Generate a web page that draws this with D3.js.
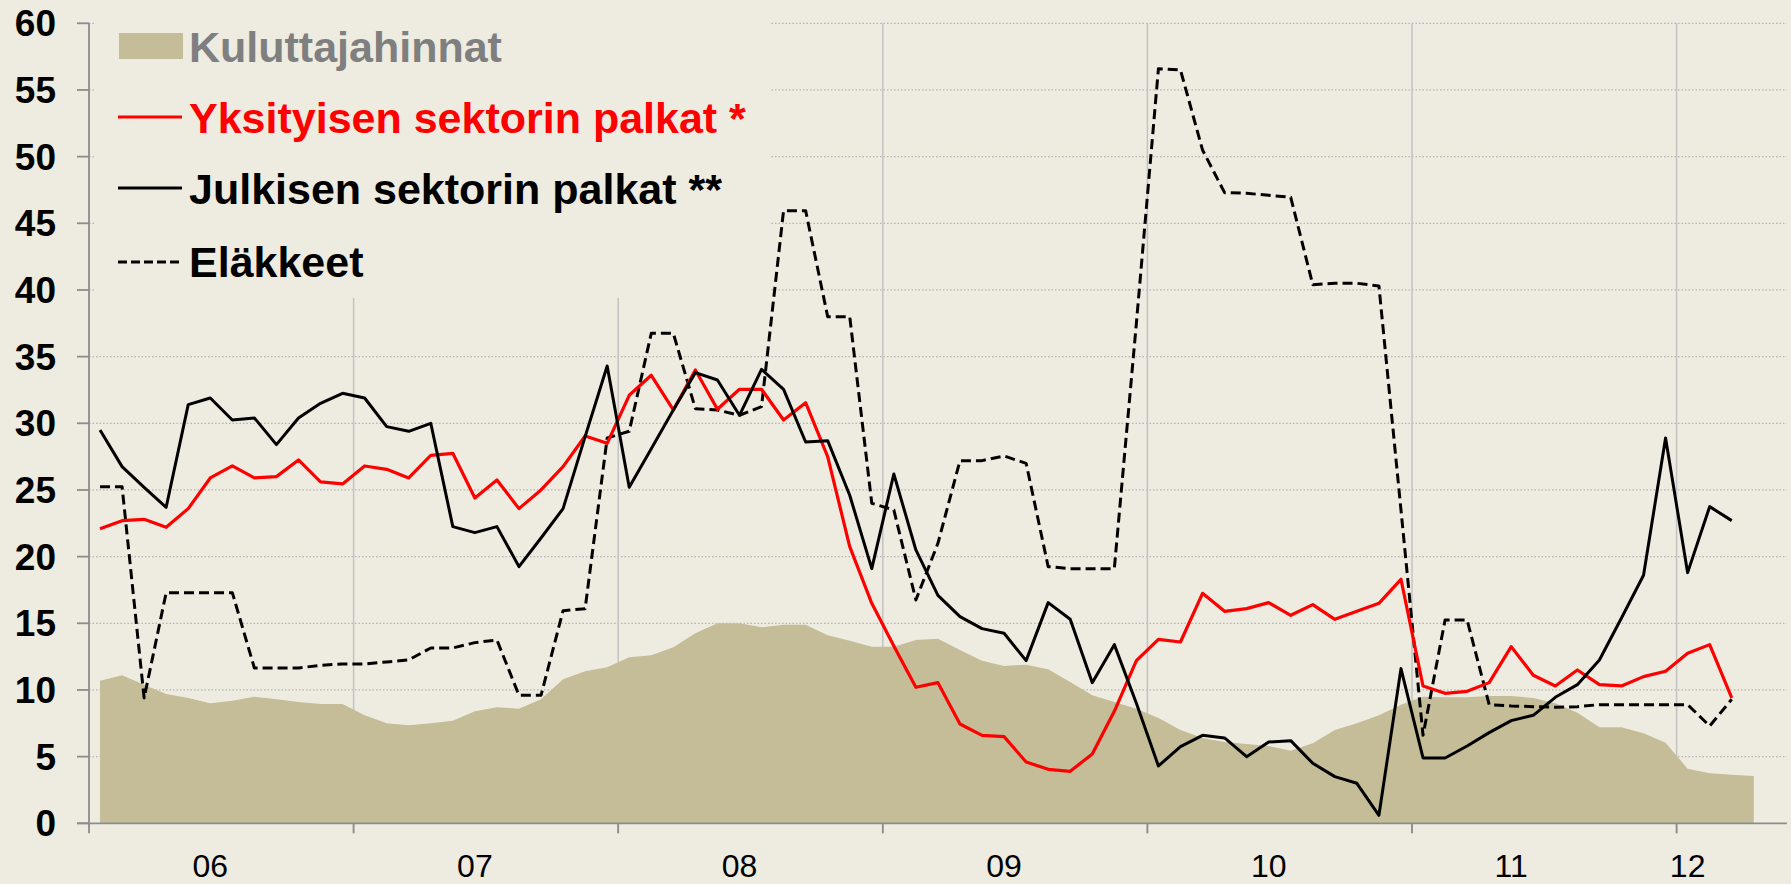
<!DOCTYPE html>
<html>
<head>
<meta charset="utf-8">
<script src="https://cdn.jsdelivr.net/npm/d3@7"></script>
<style>
html,body{margin:0;padding:0;background:#EEECE1;}
svg{display:block;}
</style>
</head>
<body>
<svg id="chart" width="1791" height="884"></svg>
<script>
// ---------- DATA ----------
const years = ["2006","2007","2008","2009","2010","2011","2012"];
const months = ["01","02","03","04","05","06","07","08","09","10","11","12"];
// monthly categories Jan 2006 .. May 2012
const categories = years.flatMap(y => months.map(m => y + "-" + m)).slice(0, 77);

const seriesNames = ["Kuluttajahinnat", "Yksityisen sektorin palkat *", "Julkisen sektorin palkat **", "Eläkkeet"];

// Kuluttajahinnat (area), Jan 2006 .. Apr 2012
const kuluttajahinnat = [
  10.7, 11.1, 10.4, 9.7, 9.4, 9.0, 9.2, 9.5, 9.3, 9.1, 8.95, 8.95,
  8.1, 7.5, 7.35, 7.5, 7.7, 8.4, 8.7, 8.6, 9.3, 10.8, 11.4, 11.7,
  12.45, 12.6, 13.2, 14.25, 15.0, 15.0, 14.7, 14.9, 14.9, 14.1, 13.7, 13.25,
  13.25, 13.75, 13.85, 13.0, 12.2, 11.8, 11.9, 11.55, 10.6, 9.6, 9.1, 8.6,
  7.9, 7.0, 6.4, 6.1, 5.95, 5.8, 5.45, 6.0, 7.0, 7.5, 8.1, 8.9,
  9.5, 9.45, 9.45, 9.55, 9.55, 9.4, 9.0, 8.3, 7.2, 7.2, 6.75, 6.05,
  4.1, 3.75, 3.65, 3.55
];

// Yksityisen sektorin palkat *, Jan 2006 .. Mar 2012
const yksityinen = [
  22.1, 22.7, 22.8, 22.2, 23.6, 25.9, 26.8, 25.9, 26.0, 27.25, 25.6, 25.45,
  26.8, 26.55, 25.9, 27.6, 27.75, 24.4, 25.75, 23.6, 25.0, 26.75, 29.05, 28.5,
  32.1, 33.6, 31.0, 34.0, 31.05, 32.55, 32.55, 30.25, 31.55, 27.5, 20.75, 16.5,
  13.3, 10.2, 10.55, 7.45, 6.6, 6.5, 4.6, 4.05, 3.9, 5.2, 8.4, 12.2,
  13.8, 13.6, 17.25, 15.9, 16.1, 16.55, 15.6, 16.4, 15.3, 15.9, 16.5, 18.3,
  10.3, 9.75, 9.9, 10.55, 13.25, 11.1, 10.3, 11.5, 10.4, 10.3, 11.0, 11.4,
  12.75, 13.4, 9.4
];

// Julkisen sektorin palkat **, Jan 2006 .. Mar 2012
const julkinen = [
  29.5, 26.75, 25.2, 23.7, 31.4, 31.9, 30.25, 30.4, 28.4, 30.4, 31.5, 32.25,
  31.9, 29.75, 29.4, 30.0, 22.25, 21.8, 22.25, 19.25, 21.4, 23.6, 29.0, 34.3,
  25.2, 28.1, 31.0, 33.8, 33.25, 30.6, 34.05, 32.55, 28.6, 28.7, 24.6, 19.1,
  26.2, 20.5, 17.1, 15.5, 14.6, 14.25, 12.2, 16.55, 15.3, 10.55, 13.4, 9.0,
  4.3, 5.75, 6.6, 6.4, 5.0, 6.1, 6.2, 4.5, 3.5, 3.0, 0.6, 11.6,
  4.9, 4.9, 5.8, 6.8, 7.7, 8.1, 9.45, 10.4, 12.25, 15.4, 18.6, 28.9,
  18.8, 23.75, 22.7
];

// Eläkkeet, Jan 2006 .. Mar 2012
const elakkeet = [
  25.25, 25.25, 9.4, 17.3, 17.3, 17.3, 17.3, 11.65, 11.65, 11.65, 11.85, 11.95,
  11.95, 12.1, 12.25, 13.15, 13.15, 13.55, 13.75, 9.6, 9.6, 15.95, 16.1, 28.9,
  29.4, 36.75, 36.75, 31.1, 31.0, 30.6, 31.25, 45.95, 45.95, 38.0, 38.0, 24.0,
  23.5, 16.75, 21.0, 27.2, 27.2, 27.55, 27.0, 19.25, 19.1, 19.1, 19.1, 37.5,
  56.6, 56.5, 50.5, 47.3, 47.25, 47.1, 46.95, 40.4, 40.5, 40.5, 40.3, 23.5,
  6.6, 15.25, 15.25, 8.9, 8.8, 8.75, 8.7, 8.75, 8.9, 8.9, 8.9, 8.9,
  8.9, 7.3, 9.3
];

const yTicks = [0, 5, 10, 15, 20, 25, 30, 35, 40, 45, 50, 55, 60];
const yearLabels = ["06", "07", "08", "09", "10", "11", "12"];
const yearLabelAt = ["2006-06", "2007-06", "2008-06", "2009-06", "2010-06", "2011-05", "2012-01"];
const yearStarts = ["2006-01", "2007-01", "2008-01", "2009-01", "2010-01", "2011-01", "2012-01"];

// ---------- DRAW ----------
(function () {
const W = 1791, H = 884;
const pL = 89, pR = 89 + 22.05 * 77, pT = 23.3, pB = 823.3;
const FONT = "'Liberation Sans', Arial, Helvetica, sans-serif";

const svg = d3.select("#chart");
svg.append("rect").attr("width", W).attr("height", H).attr("fill", "#EEECE1");

const x = d3.scaleBand().domain(categories).range([pL, pR]).padding(0);
const cx = c => x(c) + x.bandwidth() / 2;
const y = d3.scaleLinear().domain([0, 60]).range([pB, pT]);

// horizontal dotted gridlines
svg.append("g").selectAll("line").data(yTicks.filter(v => v > 0)).join("line")
  .attr("x1", pL).attr("x2", pR)
  .attr("y1", d => y(d)).attr("y2", d => y(d))
  .attr("stroke", "#B4B4B4").attr("stroke-width", 1.3).attr("stroke-dasharray", "1.5,2");

// vertical year gridlines
svg.append("g").selectAll("line").data(yearStarts.slice(1)).join("line")
  .attr("x1", d => x(d)).attr("x2", d => x(d))
  .attr("y1", pT).attr("y2", pB + 10)
  .attr("stroke", "#C3C3C3").attr("stroke-width", 1.5);

// legend background (covers gridlines)
svg.append("rect").attr("x", 96).attr("y", 4).attr("width", 674).attr("height", 294).attr("fill", "#EEECE1");

// area
const areaData = kuluttajahinnat.map((v, i) => ({c: categories[i], v}));
svg.append("path").datum(areaData)
  .attr("fill", "#C4BD97")
  .attr("d", d3.area().x(d => cx(d.c)).y0(y(0)).y1(d => y(d.v)));

// axes
const axisColor = "#8C8C8C";
svg.append("line").attr("x1", pL).attr("x2", pL).attr("y1", pT).attr("y2", pB + 10)
  .attr("stroke", axisColor).attr("stroke-width", 1.8);
svg.append("line").attr("x1", pL - 12).attr("x2", pR).attr("y1", pB).attr("y2", pB)
  .attr("stroke", axisColor).attr("stroke-width", 1.8);
svg.append("g").selectAll("line").data(yTicks).join("line")
  .attr("x1", pL - 12).attr("x2", pL)
  .attr("y1", d => y(d)).attr("y2", d => y(d))
  .attr("stroke", axisColor).attr("stroke-width", 1.8);
svg.append("g").selectAll("line").data(yearStarts.slice(1)).join("line")
  .attr("x1", d => x(d)).attr("x2", d => x(d))
  .attr("y1", pB).attr("y2", pB + 10)
  .attr("stroke", axisColor).attr("stroke-width", 1.8);

// lines
const lineGen = d3.line().x(d => cx(d.c)).y(d => y(d.v));
const mk = arr => arr.map((v, i) => ({c: categories[i], v}));
svg.append("path").datum(mk(elakkeet))
  .attr("fill", "none").attr("stroke", "#000").attr("stroke-width", 3)
  .attr("stroke-dasharray", "10,5").attr("stroke-linejoin", "round")
  .attr("d", lineGen);
svg.append("path").datum(mk(yksityinen))
  .attr("fill", "none").attr("stroke", "#FF0000").attr("stroke-width", 3.2)
  .attr("stroke-linejoin", "round").attr("d", lineGen);
svg.append("path").datum(mk(julkinen))
  .attr("fill", "none").attr("stroke", "#000").attr("stroke-width", 3)
  .attr("stroke-linejoin", "round").attr("d", lineGen);

// y tick labels
svg.append("g").selectAll("text").data(yTicks).join("text")
  .attr("x", 56).attr("y", d => y(d) + 13)
  .attr("text-anchor", "end")
  .attr("font-family", FONT).attr("font-weight", "bold").attr("font-size", 37)
  .attr("fill", "#000").text(d => d);

// x year labels
svg.append("g").selectAll("text").data(yearLabels).join("text")
  .attr("x", (d, i) => cx(yearLabelAt[i]))
  .attr("y", 876.5)
  .attr("text-anchor", "middle")
  .attr("font-family", FONT).attr("font-size", 32)
  .attr("fill", "#000").text(d => d);

// legend
const lg = svg.append("g").attr("font-family", FONT).attr("font-weight", "bold").attr("font-size", 43);
lg.append("rect").attr("x", 119).attr("y", 33).attr("width", 64).attr("height", 26).attr("fill", "#C4BD97");
lg.append("text").attr("x", 189).attr("y", 62).attr("fill", "#7F7F7F").text(seriesNames[0]);
lg.append("line").attr("x1", 118).attr("x2", 182).attr("y1", 117).attr("y2", 117)
  .attr("stroke", "#FF0000").attr("stroke-width", 3.2);
lg.append("text").attr("x", 189).attr("y", 133).attr("fill", "#FF0000").text(seriesNames[1]);
lg.append("line").attr("x1", 118).attr("x2", 182).attr("y1", 188).attr("y2", 188)
  .attr("stroke", "#000").attr("stroke-width", 3);
lg.append("text").attr("x", 189).attr("y", 204).attr("fill", "#000").text(seriesNames[2]);
lg.append("line").attr("x1", 118).attr("x2", 182).attr("y1", 262).attr("y2", 262)
  .attr("stroke", "#000").attr("stroke-width", 3).attr("stroke-dasharray", "9,4");
lg.append("text").attr("x", 189).attr("y", 277).attr("fill", "#000").text(seriesNames[3]);
})();
</script>
</body>
</html>
